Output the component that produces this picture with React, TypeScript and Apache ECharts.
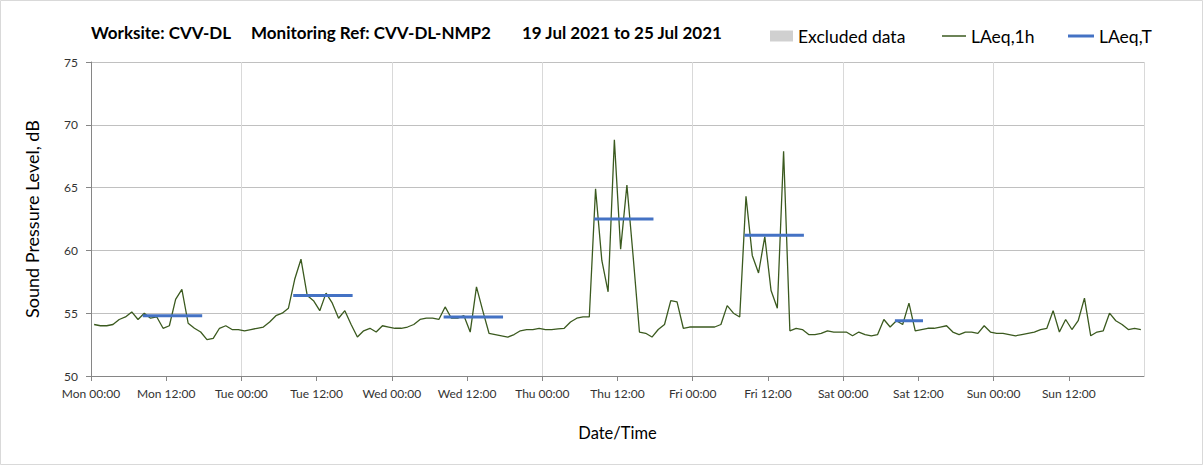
import React, { useEffect, useRef } from 'react';
import * as echarts from 'echarts';

const dayNames = ['Mon', 'Tue', 'Wed', 'Thu', 'Fri', 'Sat', 'Sun'];

// Hourly LAeq,1h values (dB), one array per day, 00:00..23:00
const monLAeq1h = [54.1, 54.0, 54.0, 54.1, 54.5, 54.7, 55.1, 54.5, 55.0, 54.6, 54.7, 53.8, 54.0, 56.1, 56.9, 54.2, 53.8, 53.5, 52.9, 53.0, 53.8, 54.0, 53.7, 53.7];
const tueLAeq1h = [53.6, 53.7, 53.8, 53.9, 54.3, 54.8, 55.0, 55.4, 57.7, 59.3, 56.4, 56.0, 55.2, 56.6, 55.8, 54.6, 55.2, 54.1, 53.1, 53.6, 53.8, 53.5, 54.0, 53.9];
const wedLAeq1h = [53.8, 53.8, 53.9, 54.1, 54.5, 54.6, 54.6, 54.5, 55.5, 54.6, 54.6, 54.8, 53.5, 57.1, 55.2, 53.4, 53.3, 53.2, 53.1, 53.3, 53.6, 53.7, 53.7, 53.8];
const thuLAeq1h = [53.7, 53.7, 53.75, 53.8, 54.3, 54.6, 54.7, 54.7, 64.9, 59.2, 56.7, 68.8, 60.1, 65.2, 59.5, 53.5, 53.4, 53.1, 53.7, 54.1, 56.0, 55.9, 53.8, 53.9];
const friLAeq1h = [53.9, 53.9, 53.9, 53.9, 54.1, 55.6, 55.0, 54.7, 64.3, 59.6, 58.2, 61.1, 56.8, 55.4, 67.9, 53.6, 53.8, 53.7, 53.3, 53.3, 53.4, 53.6, 53.5, 53.5];
const satLAeq1h = [53.5, 53.2, 53.5, 53.3, 53.2, 53.3, 54.5, 53.9, 54.4, 54.1, 55.8, 53.6, 53.7, 53.8, 53.8, 53.9, 54.0, 53.5, 53.3, 53.5, 53.5, 53.4, 54.0, 53.5];
const sunLAeq1h = [53.4, 53.4, 53.3, 53.2, 53.3, 53.4, 53.5, 53.7, 53.8, 55.2, 53.5, 54.5, 53.7, 54.4, 56.2, 53.2, 53.5, 53.6, 55.0, 54.4, 54.1, 53.7, 53.8, 53.7];

// LAeq,T periods: start hour index, end hour index (inclusive), level dB
const laeqTStartHour = [8, 32, 56, 80, 104, 128];
const laeqTEndHour = [17, 41, 65, 89, 113, 132];
const laeqTValues = [54.8, 56.4, 54.7, 62.5, 61.2, 54.4];

const yTicks = [50, 55, 60, 65, 70, 75];

const titleParts = ['Worksite: CVV-DL', 'Monitoring Ref: CVV-DL-NMP2', '19 Jul 2021 to 25 Jul 2021'];

export default function App() {
  const ref = useRef<HTMLDivElement>(null);

  useEffect(() => {
    document.body.style.margin = '0';
    if (!ref.current) return;
    const chart = echarts.init(ref.current, null, { renderer: 'svg' });

    const hourly = [...monLAeq1h, ...tueLAeq1h, ...wedLAeq1h, ...thuLAeq1h, ...friLAeq1h, ...satLAeq1h, ...sunLAeq1h];
    const lineData = hourly.map((v, i) => [i + 0.5, v]);

    const laeqTSeries = laeqTValues.map((v, k) => ({
      name: 'LAeq,T',
      type: 'line',
      xAxisIndex: 0,
      yAxisIndex: 0,
      symbol: 'none',
      data: [
        [laeqTStartHour[k] + 0.5, v],
        [laeqTEndHour[k] + 0.5, v],
      ],
      lineStyle: { color: '#4472C4', width: 3, cap: 'square' },
      itemStyle: { color: '#4472C4' },
      z: 4,
    }));

    const font = 'Lato, "Open Sans", sans-serif';
    const titleStyle = { fontFamily: font, fontSize: 17, fontWeight: 'bold', color: '#000' };
    const legendText = { fontFamily: font, fontSize: 17.5, color: '#000' };

    const option: any = {
      animation: false,
      backgroundColor: '#ffffff',
      textStyle: { fontFamily: font },
      title: [
        { text: titleParts[0], left: 91, top: 24, padding: 0, textStyle: titleStyle },
        { text: titleParts[1], left: 251, top: 24, padding: 0, textStyle: titleStyle },
        { text: titleParts[2], left: 522, top: 24, padding: 0, textStyle: titleStyle },
      ],
      legend: [
        {
          data: [{ name: 'Excluded data', icon: 'rect' }],
          left: 770, top: 27, padding: 0, itemWidth: 23, itemHeight: 11,
          textStyle: legendText,
        },
        {
          data: [{ name: 'LAeq,1h', icon: 'rect' }],
          left: 942, top: 27, padding: 0, itemWidth: 24, itemHeight: 1.5,
          textStyle: legendText,
        },
        {
          data: [{ name: 'LAeq,T', icon: 'rect' }],
          left: 1068, top: 27, padding: 0, itemWidth: 26, itemHeight: 3,
          textStyle: legendText,
        },
      ],
      graphic: [
        {
          type: 'rect',
          shape: { x: 0.5, y: 0.5, width: 1202, height: 464 },
          style: { fill: 'none', stroke: '#d9d9d9', lineWidth: 1 },
          silent: true,
        },
      ],
      grid: { left: 91, top: 62, right: 59, bottom: 89 },
      xAxis: [
        {
          type: 'value',
          min: 0,
          max: 168,
          interval: 12,
          name: 'Date/Time',
          nameLocation: 'middle',
          nameGap: 48,
          nameTextStyle: { fontFamily: font, fontSize: 16.5, color: '#000' },
          axisLine: { show: true, lineStyle: { color: '#868686', width: 1 } },
          axisTick: { show: true, length: 5, lineStyle: { color: '#868686' } },
          axisLabel: {
            fontFamily: font,
            fontSize: 12,
            color: '#333',
            margin: 11,
            showMaxLabel: false,
            formatter: (v: number) => {
              if (v >= 168) return '';
              const d = dayNames[Math.floor(v / 24)];
              return `${d} ${v % 24 === 0 ? '00:00' : '12:00'}`;
            },
          },
          splitLine: { show: false },
        },
        {
          type: 'value',
          min: 0,
          max: 168,
          interval: 24,
          position: 'bottom',
          axisLine: { show: false },
          axisTick: { show: false },
          axisLabel: { show: false },
          splitLine: { show: true, lineStyle: { color: '#d9d9d9', width: 1 } },
        },
      ],
      yAxis: {
        type: 'value',
        min: yTicks[0],
        max: yTicks[yTicks.length - 1],
        interval: 5,
        name: 'Sound Pressure Level, dB',
        nameLocation: 'middle',
        nameGap: 50,
        nameTextStyle: { fontFamily: font, fontSize: 18, color: '#000' },
        axisLine: { show: true, lineStyle: { color: '#868686', width: 1 } },
        axisTick: { show: true, length: 5, lineStyle: { color: '#868686' } },
        axisLabel: { fontFamily: font, fontSize: 12, color: '#333', margin: 13 },
        splitLine: { show: true, lineStyle: { color: '#c0c0c0', width: 1 } },
      },
      series: [
        {
          name: 'Excluded data',
          type: 'bar',
          xAxisIndex: 0,
          data: [],
          itemStyle: { color: '#d0d0d0' },
        },
        {
          name: 'LAeq,1h',
          type: 'line',
          xAxisIndex: 0,
          symbol: 'none',
          data: lineData,
          lineStyle: { color: '#3b5a1f', width: 1.3 },
          itemStyle: { color: '#3b5a1f' },
          z: 3,
        },
        ...laeqTSeries,
      ],
    };

    chart.setOption(option);
    return () => chart.dispose();
  }, []);

  return <div ref={ref} style={{ width: 1203, height: 465 }} />;
}
